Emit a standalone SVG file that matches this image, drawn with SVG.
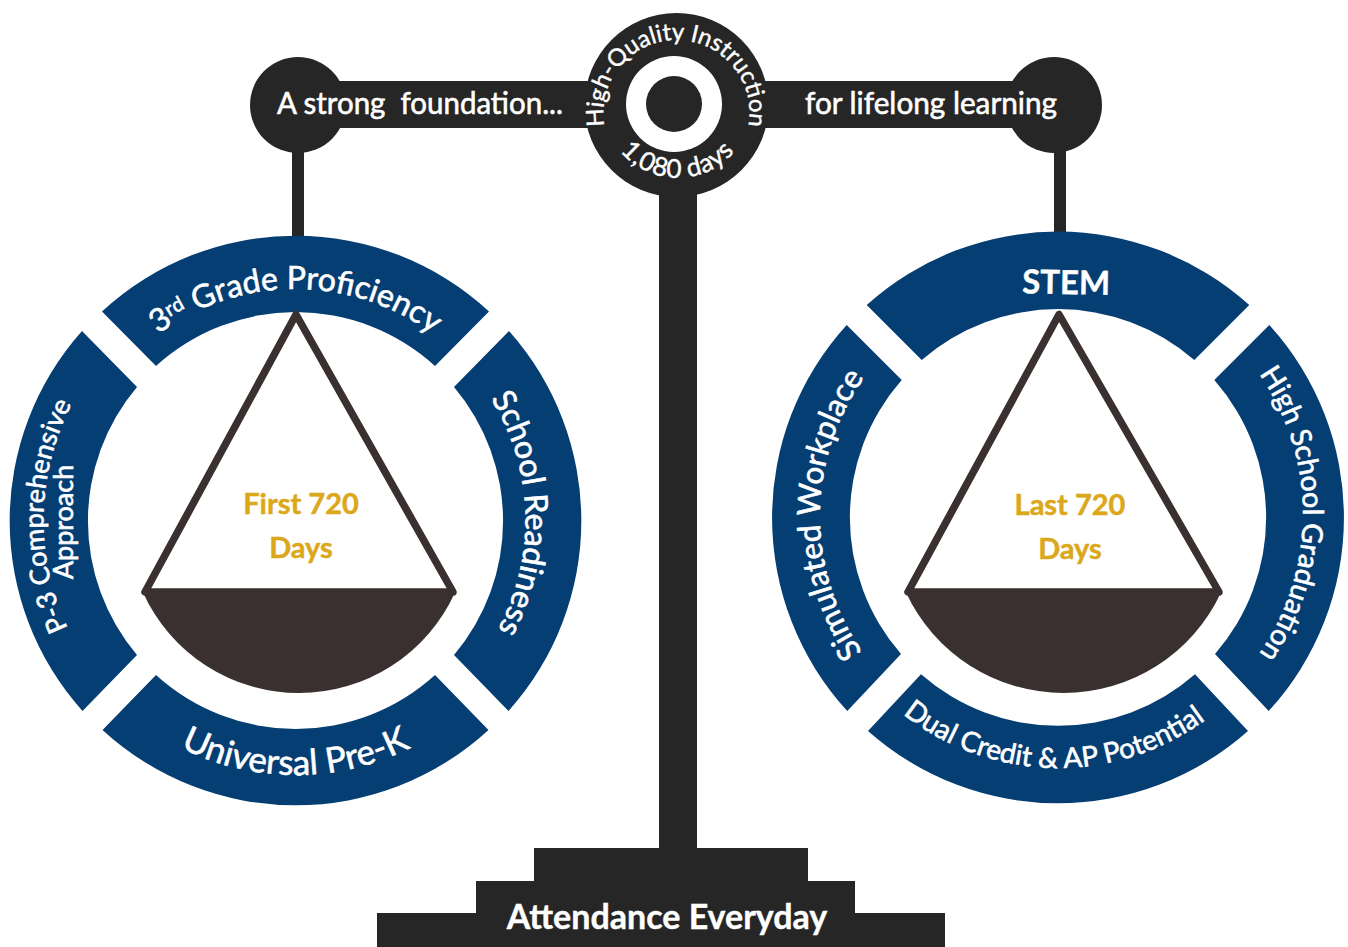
<svg xmlns="http://www.w3.org/2000/svg" width="1348" height="947" viewBox="0 0 1348 947">
<style>
.d{fill:#262626}
.n{fill:#053e73}
.b{fill:#3a302f}
.l{fill:none;stroke:#3a302f;stroke-width:7.500;stroke-linejoin:round}
text{font-family:Lato,"Liberation Sans",sans-serif;fill:#fff;stroke:#fff;stroke-width:.6px;text-anchor:middle}
.g{fill:#dca81b;stroke:#dca81b;stroke-width:.5px;font-weight:700;font-size:29px}
.s{stroke-width:.4px}
</style>
<defs>
<path id="lT" d="M295.500 751A231 231 0 0 1 295.500 289A231 231 0 0 1 295.500 751"/>
<path id="lL" d="M547.500 520A252 252 0 0 1 43.500 520A252 252 0 0 1 547.500 520"/>
<path id="lR" d="M65.500 520A230 230 0 0 1 525.500 520A230 230 0 0 1 65.500 520"/>
<path id="lB" d="M295.500 265A255 255 0 0 0 295.500 775A255 255 0 0 0 295.500 265"/>
<path id="rL" d="M1296 516A238 238 0 0 1 820 516A238 238 0 0 1 1296 516"/>
<path id="rR" d="M813 514A245 245 0 0 1 1303 514A245 245 0 0 1 813 514"/>
<path id="rB" d="M1058 268A250 250 0 0 0 1058 768A250 250 0 0 0 1058 268"/>
<path id="cT" d="M676.500 186A73 73 0 0 1 676.500 40A73 73 0 0 1 676.500 186"/>
<path id="cB" d="M677.500 28A75 75 0 0 0 677.500 178A75 75 0 0 0 677.500 28"/>
</defs>
<rect width="1348" height="947" fill="#fff"/>
<g id="connectors">
<rect class="d" x="292" y="140" width="12" height="98"/>
<rect class="d" x="1054" y="140" width="12" height="94"/>
</g>
<g id="beam">
<rect class="d" x="298" y="81" width="757" height="47"/>
<circle class="d" cx="298" cy="105" r="48"/>
<circle class="d" cx="1054" cy="105" r="48"/>
<text x="420" y="114" font-size="31" xml:space="preserve" textLength="286" lengthAdjust="spacingAndGlyphs">A strong  foundation...</text>
<text x="931" y="114" font-size="31" textLength="252" lengthAdjust="spacingAndGlyphs">for lifelong learning</text>
</g>
<g id="stand">
<rect class="d" x="659" y="180" width="38" height="680"/>
<path class="d" d="M534 848H808V881H855V913H945V947H377V913H476V881H534Z"/>
<text class="s" x="667" y="929" font-size="34" font-weight="700">Attendance Everyday</text>
</g>
<g id="pivot">
<circle class="d" cx="676.500" cy="105" r="92"/>
<circle cx="674" cy="104" r="48" fill="#fff"/>
<circle class="d" cx="674" cy="104" r="28"/>
<text class="s" font-size="24"><textPath href="#cT" startOffset="50%">High-Quality Instruction</textPath></text>
<text class="s" font-size="26" letter-spacing=".6"><textPath href="#cB" startOffset="50%">1,080 days</textPath></text>
</g>
<g id="left-ring">
<path id="seg-top-left" class="n" d="M102 311.500A285 285 0 0 1 489 311.500L435 366A207.500 207.500 0 0 0 156 366Z"/>
<path id="seg-left-left" class="n" d="M82 331L137 387A207.500 207.500 0 0 0 137 655L82.500 711A285 285 0 0 1 82 331Z"/>
<path id="seg-right-left" class="n" d="M509 331A285 285 0 0 1 508.500 711L454 655A207.500 207.500 0 0 0 454 387Z"/>
<path id="seg-bottom-left" class="n" d="M102.500 730L156 675A207.500 207.500 0 0 0 435 675L488.500 730A285 285 0 0 1 102.500 730Z"/>
<text font-size="32"><textPath href="#lT" startOffset="50%">3<tspan font-size="20" dy="-8">rd</tspan><tspan dy="8"> Grade Proficiency</tspan></textPath></text>
<text font-size="27" transform="rotate(1 295.500 520)"><textPath href="#lL" startOffset="50%">P-3 Comprehensive</textPath></text>
<text font-size="27" transform="translate(73 522) rotate(-90)">Approach</text>
<text font-size="32" transform="rotate(-1.700 295.500 520)"><textPath href="#lR" startOffset="50%">School Readiness</textPath></text>
<text font-size="35"><textPath href="#lB" startOffset="50%">Universal Pre-K</textPath></text>
</g>
<g id="left-pan">
<path class="l" d="M296 314.500L145 592H453Z"/>
<path class="b" d="M143 592.500H455A171.300 171.300 0 0 1 143 592.500Z"/>
<text class="g" x="301" y="514">First 720</text>
<text class="g" x="301" y="558">Days</text>
</g>
<g id="right-ring">
<path id="seg-top-right" class="n" d="M866.700 305A286 286 0 0 1 1249.300 305L1194.300 360A208 208 0 0 0 921.700 360Z"/>
<path id="seg-left-right" class="n" d="M846.700 325L901.700 380A208 208 0 0 0 901 654L847.300 711A286 286 0 0 1 846.700 325Z"/>
<path id="seg-right-right" class="n" d="M1269.300 325A286 286 0 0 1 1268.700 711L1215 654A208 208 0 0 0 1214.300 380Z"/>
<path id="seg-bottom-right" class="n" d="M868 731L921 674.300A208 208 0 0 0 1195 674.300L1248 731A286 286 0 0 1 868 731Z"/>
<text class="s" x="1066" y="294" font-size="33" font-weight="700" transform="rotate(1 1066 294)">STEM</text>
<text font-size="31.500" transform="rotate(.4 1058 516)"><textPath href="#rL" startOffset="50%">Simulated Workplace</textPath></text>
<text font-size="28.500"><textPath href="#rR" startOffset="50%">High School Graduation</textPath></text>
<text font-size="28" transform="rotate(1.100 1058 518)"><textPath href="#rB" startOffset="50%">Dual Credit &amp; AP Potential</textPath></text>
</g>
<g id="right-pan">
<path class="l" d="M1059 314.500L908 592H1219Z"/>
<path class="b" d="M906 592.500H1221A173.700 173.700 0 0 1 906 592.500Z"/>
<text class="g" x="1070" y="515">Last 720</text>
<text class="g" x="1070" y="559">Days</text>
</g>
</svg>
